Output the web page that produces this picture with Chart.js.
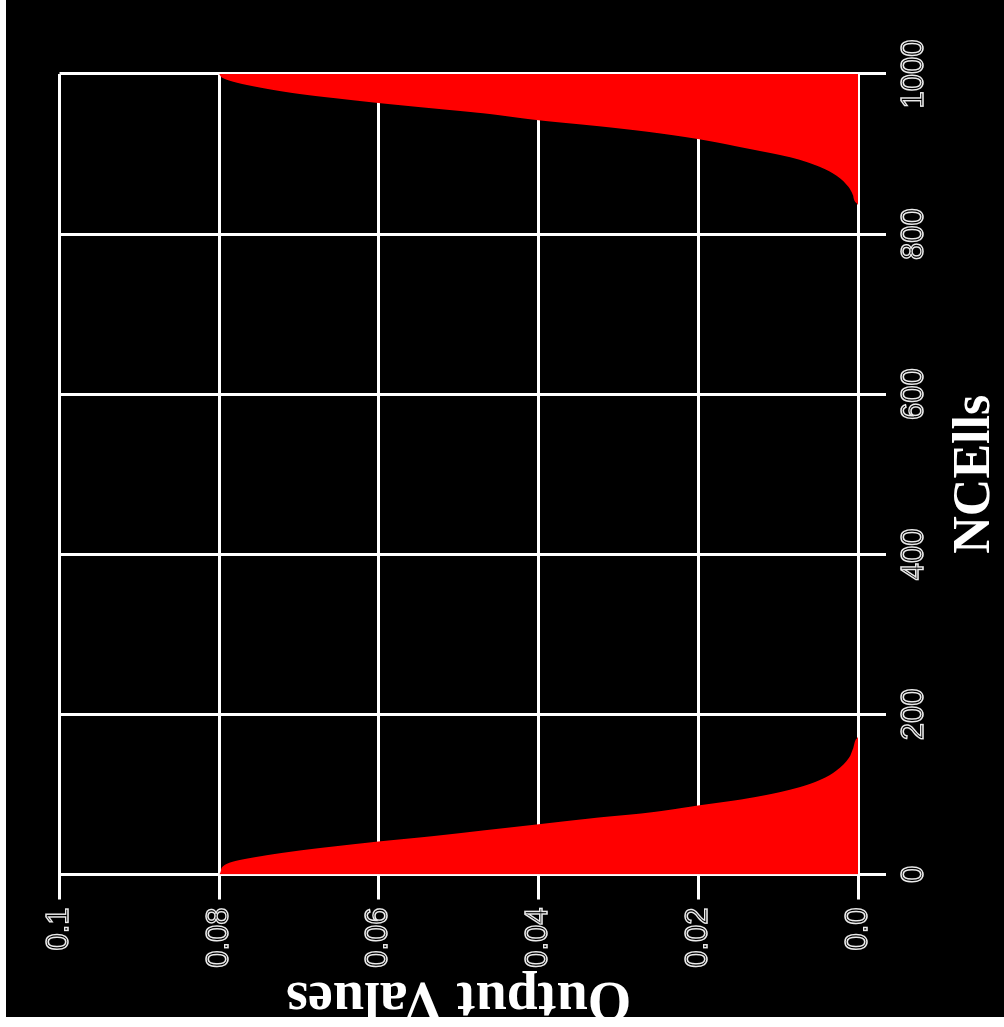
<!DOCTYPE html>
<html>
<head>
<meta charset="utf-8">
<title>NCElls</title>
<script src="https://cdn.jsdelivr.net/npm/chart.js@4.4.1/dist/chart.umd.min.js"></script>
<style>
	html, body { margin: 0; padding: 0; background: #fff; width: 1004px; height: 1027px; overflow: hidden; }
	#plot {
		position: absolute; left: 0; top: 0;
		width: 1027px; height: 1004px;
		background: #000;
		/* plot is drawn upright, then turned a quarter to the left */
		transform-origin: 0 0;
		transform: translate(0, 1027px) rotate(-90deg);
	}
	.edge { position: absolute; background: #fff; }
</style>
</head>
<body>
<div id="plot"><canvas id="chart" width="1027" height="1004"></canvas></div>
<div class="edge" style="left:0;top:0;width:6px;height:1027px"></div>
<div class="edge" style="left:0;top:1017px;width:1004px;height:10px"></div>
<script>
(function() {
	'use strict';

	// NCElls positions and output values
	var ncells = [0, 4, 8, 16, 24, 30, 35, 41, 48, 55, 62, 71, 77, 86, 95, 106, 118, 130, 145, 158, 168, 172,
		500,
		836, 841, 850, 859, 873, 884, 896, 907, 919, 928, 935, 942, 951, 957, 964, 970, 975, 986, 992, 996, 1000];
	var outputValues = [0.0800, 0.0798, 0.0797, 0.0783, 0.0741, 0.0699, 0.0657, 0.0603, 0.0532, 0.0470, 0.0407,
		0.0327, 0.0265, 0.0202, 0.0139, 0.0085, 0.0048, 0.0027, 0.0012, 0.0006, 0.0003, 0,
		0,
		0, 0.0004, 0.0007, 0.0012, 0.0027, 0.0048, 0.0085, 0.0139, 0.0202, 0.0265, 0.0327, 0.0398, 0.0470,
		0.0532, 0.0603, 0.0657, 0.0699, 0.0764, 0.0788, 0.0797, 0.0800];

	var xTicks = [0, 200, 400, 600, 800, 1000];
	var yTickLabels = ['0.0', '0.02', '0.04', '0.06', '0.08', '0.1'];

	var points = ncells.map(function(n, i) { return { x: n, y: outputValues[i] }; });

	var tickFont = { family: "'Liberation Sans', Arial, sans-serif", size: 31 };
	var serif = "'Liberation Serif', 'Times New Roman', serif";

	new Chart(document.getElementById('chart'), {
		type: 'line',
		data: {
			datasets: [{
				data: points,
				backgroundColor: '#ff0000',
				borderWidth: 0,
				pointRadius: 0,
				fill: 'origin',
				cubicInterpolationMode: 'monotone'
			}]
		},
		options: {
			responsive: false,
			animation: false,
			layout: { padding: { top: 59.5, right: 74, left: 0, bottom: 0 } },
			plugins: { legend: { display: false }, tooltip: { enabled: false } },
			scales: {
				x: {
					type: 'linear',
					min: 0,
					max: 1000,
					z: 1,
					afterBuildTicks: function(s) { s.ticks = xTicks.map(function(v) { return { value: v }; }); },
					afterFit: function(s) { s.height = 146; },
					grid: { color: '#fff', lineWidth: 3, tickLength: 28 },
					border: { display: false },
					ticks: {
						font: tickFont,
						color: 'rgba(0,0,0,0)',
						textStrokeColor: '#ececec',
						textStrokeWidth: 1.4,
						padding: 10,
						maxRotation: 0,
						autoSkip: false,
						callback: function(v) { return String(v); }
					},
					title: {
						display: true,
						text: 'NCElls',
						color: '#fff',
						font: { family: serif, size: 52, weight: 'bold', lineHeight: 1.1 },
						padding: 0
					}
				},
				y: {
					min: 0,
					max: 0.1,
					z: 1,
					ticks: {
						stepSize: 0.02,
						font: tickFont,
						color: 'rgba(0,0,0,0)',
						textStrokeColor: '#ececec',
						textStrokeWidth: 1.4,
						padding: 8,
						callback: function(v, i) { return yTickLabels[i]; }
					},
					afterFit: function(s) { s.width = 152.5; },
					grid: { color: '#fff', lineWidth: 3, tickLength: 25 },
					border: { display: false },
					title: {
						display: true,
						text: 'Output Values',
						color: '#fff',
						font: { family: serif, size: 56, weight: 'bold', lineHeight: 1.06 },
						padding: 0
					}
				}
			}
		}
	});
})();
</script>
</body>
</html>
